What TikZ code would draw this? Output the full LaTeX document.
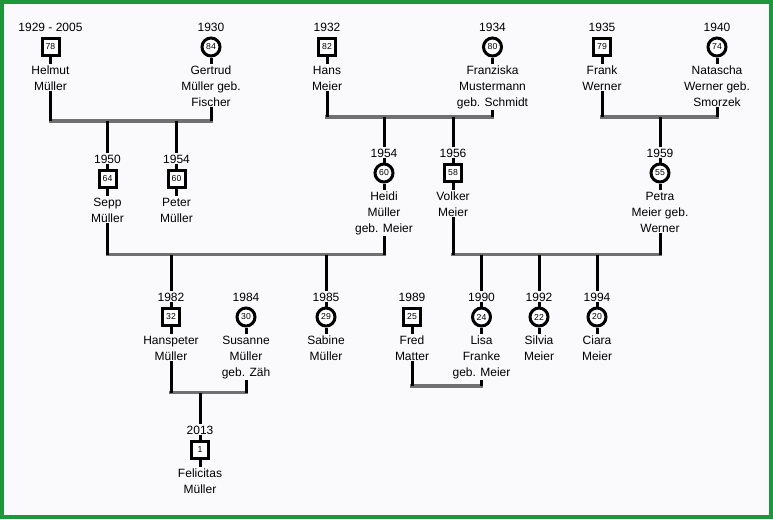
\documentclass[tikz,border=0pt]{standalone}
\usepackage{fontspec}
\setmainfont{Liberation Sans}
\definecolor{frame}{RGB}{30,150,60}
\definecolor{bgc}{RGB}{250,249,252}
\definecolor{barc}{RGB}{112,112,112}
% id, x, centre y, year, age, style, extra lines, name
\newcommand\psn[8]{%
  \node[yr] (#1y) at (#2,{#3-16}) {#4};
  \node[#6] (#1s) at (#2,#3) {#5};
  \node[nm] (#1n) at (#2,{#3+27+16*#7}) {#8};
  \draw[vl] (#1s) -- (#1n);
}
\begin{document}
\begin{tikzpicture}[x=0.75pt,y=-0.75pt,
  yr/.style={font=\fontsize{9}{12}\selectfont, inner sep=0.75pt, anchor=base},
  nm/.style={font=\fontsize{9}{12}\selectfont, align=center, inner sep=0.75pt, anchor=base},
  male/.style={draw, line width=2.25pt, fill=white, minimum size=12.75pt, inner sep=0pt, font=\fontsize{6.5}{7}\selectfont},
  female/.style={male, circle, minimum size=13.5pt},
  vl/.style={line width=2.25pt, black},
  bar/.style={line width=2.5pt, barc, line cap=rect}]
\useasboundingbox (0,0) rectangle (773,519);
\fill[bgc] (0,0) rectangle (773,519);
\draw[frame, line width=3pt] (2,2) rectangle (771,517);

% top row
\psn{hel}{50.5}{47}{1929 - 2005}{78}{male}{1}{Helmut\\Müller}
\psn{ger}{211}{47}{1930}{84}{female}{2}{Gertrud\\Müller geb.\\Fischer}
\psn{han}{327}{47}{1932}{82}{male}{1}{Hans\\Meier}
\psn{fra}{492.5}{47}{1934}{80}{female}{2}{Franziska\\Mustermann\\geb. Schmidt}
\psn{frk}{602}{47}{1935}{79}{male}{1}{Frank\\Werner}
\psn{nat}{717}{47}{1940}{74}{female}{2}{Natascha\\Werner geb.\\Smorzek}
% middle row
\psn{sep}{107.5}{179}{1950}{64}{male}{1}{Sepp\\Müller}
\psn{pet}{176.5}{179}{1954}{60}{male}{1}{Peter\\Müller}
\psn{hei}{384}{173}{1954}{60}{female}{2}{Heidi\\Müller\\geb. Meier}
\psn{vol}{453}{173}{1956}{58}{male}{1}{Volker\\Meier}
\psn{ptr}{660}{173}{1959}{55}{female}{2}{Petra\\Meier geb.\\Werner}
% bottom row
\psn{hsp}{171}{317}{1982}{32}{male}{1}{Hanspeter\\Müller}
\psn{sus}{246}{317}{1984}{30}{female}{2}{Susanne\\Müller\\geb. Zäh}
\psn{sab}{326}{317}{1985}{29}{female}{1}{Sabine\\Müller}
\psn{frd}{412}{317}{1989}{25}{male}{1}{Fred\\Matter}
\psn{lis}{481.5}{317}{1990}{24}{female}{2}{Lisa\\Franke\\geb. Meier}
\psn{sil}{539}{317}{1992}{22}{female}{1}{Silvia\\Meier}
\psn{cia}{597}{317}{1994}{20}{female}{1}{Ciara\\Meier}
\psn{fel}{200}{450}{2013}{1}{male}{1}{Felicitas\\Müller}

% year to symbol stubs for children
\foreach \p in {sep,pet,hei,vol,ptr,hsp,sab,lis,sil,cia,fel}
  \draw[vl] (\p y) -- (\p s);

% family bars
\coordinate (b1) at (0,121);
\coordinate (b2) at (0,117);
\coordinate (b3) at (0,117);
\coordinate (b4) at (0,254.5);
\coordinate (b5) at (0,254.5);
\coordinate (b6) at (0,392.5);
\coordinate (b7) at (0,386);
\coordinate (c6) at (200,0);

\draw[bar] (heln |- b1) -- (gern |- b1);
\draw[bar] (hann |- b2) -- (fran |- b2);
\draw[bar] (frkn |- b3) -- (natn |- b3);
\draw[bar] (sepn |- b4) -- (hein |- b4);
\draw[bar] (voln |- b5) -- (ptrn |- b5);
\draw[bar] (hspn |- b6) -- (susn |- b6);
\draw[bar] (frdn |- b7) -- (lisn |- b7);

% parents down to bars
\foreach \p/\b in {hel/b1,ger/b1,han/b2,fra/b2,frk/b3,nat/b3,sep/b4,hei/b4,vol/b5,ptr/b5,hsp/b6,sus/b6,frd/b7,lis/b7}
  \draw[vl] (\p n) -- (\p n |- \b);

% bars down to children
\foreach \p/\b in {sep/b1,pet/b1,hei/b2,vol/b2,ptr/b3,hsp/b4,sab/b4,lis/b5,sil/b5,cia/b5}
  \draw[vl] (\p y |- \b) -- (\p y);
\draw[vl] (c6 |- b6) -- (fely);
\end{tikzpicture}
\end{document}
